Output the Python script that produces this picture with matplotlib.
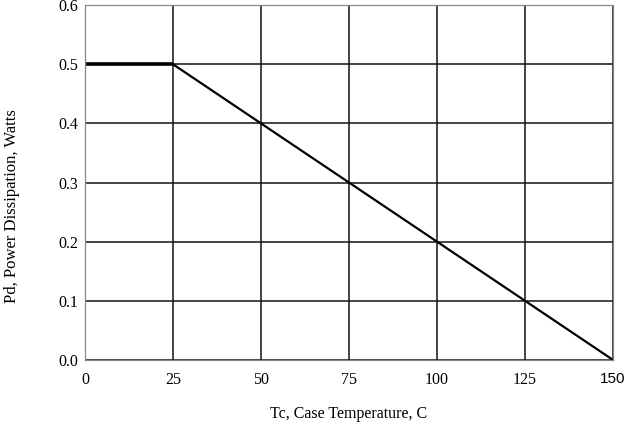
import matplotlib
matplotlib.use("Agg")
import matplotlib.pyplot as plt

temps = [0, 25, 150]
power = [0.5, 0.5, 0.0]
x_ticks = [0, 25, 50, 75, 100, 125, 150]
y_ticks = [0.0, 0.1, 0.2, 0.3, 0.4, 0.5, 0.6]
x_label = "Tc, Case Temperature, C"
y_label = "Pd, Power Dissipation, Watts"

plt.rcParams['font.family'] = ['Liberation Serif', 'DejaVu Serif']
fig = plt.figure(figsize=(6.34, 4.26), dpi=100)
ax = fig.add_axes([0.134, 0.155, 0.833, 0.833])

ax.plot(temps[:2], power[:2], color='black', lw=2.6, solid_capstyle='butt')
ax.plot(temps[1:], power[1:], color='black', lw=1.6)

ax.set_xlim(0, 150)
ax.set_ylim(0, 0.6)
ax.set_xticks(x_ticks)
ax.set_yticks(y_ticks)
ax.set_xticklabels([str(t) for t in x_ticks], fontsize=11.5)
ax.set_yticklabels([f"{v:.1f}" for v in y_ticks], fontsize=11.5)
ax.get_xticklabels()[-1].set_family(['Liberation Sans'])
ax.get_xticklabels()[-1].set_fontsize(11)
ax.tick_params(length=0)
ax.tick_params(axis='x', pad=9)
ax.tick_params(axis='y', pad=5)
ax.grid(True, color='#111111', lw=1.1)
for s in ax.spines.values():
    s.set_color('#888888')
    s.set_linestyle((0, (1, 1)))
    s.set_linewidth(0.9)

ax.set_xlabel(x_label, fontsize=11.5)
ax.set_ylabel(y_label, fontsize=12)
ax.xaxis.set_label_coords(0.5, -0.130)
ax.yaxis.set_label_coords(-0.123, 0.434)

fig.savefig("out.png", dpi=100)
